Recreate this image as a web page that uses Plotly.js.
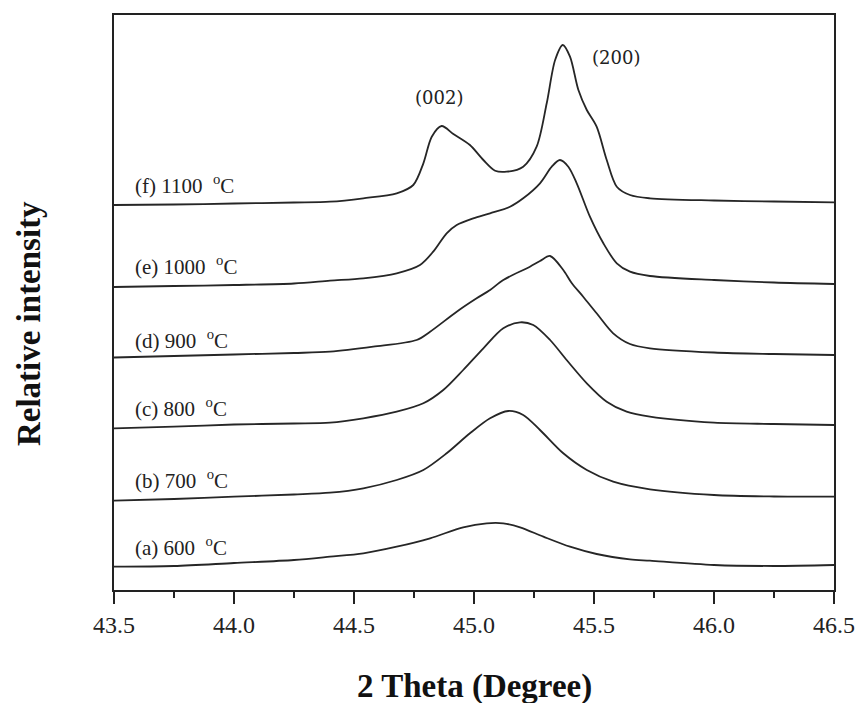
<!DOCTYPE html>
<html>
<head>
<meta charset="utf-8">
<script src="https://cdn.plot.ly/plotly-3.0.1.min.js"></script>
<style>html,body{margin:0;padding:0;background:#fff;}#chart{width:862px;height:703px;}</style>
</head>
<body>
<div id="chart"></div>
<script>
// 2 Theta (degree) and relative intensity (stacked, arbitrary units)
var xA = [43.5,43.75,44.0,44.25,44.40,44.539,44.678,44.817,44.955,45.053,45.122,45.192,45.289,45.400,45.511,45.650,45.733,46.0,46.25,46.5];
var yA = [23.3,24,27,30,33.3,36.7,43.3,51.7,62.7,66.7,66.7,62.7,53.3,43.3,36,30.7,29.3,25,24,25];

var xB = [43.5,43.75,44.0,44.25,44.40,44.539,44.678,44.789,44.886,44.983,45.067,45.143,45.205,45.275,45.372,45.470,45.580,45.733,46.0,46.25,46.5];
var yB = [89.3,91,93.3,95.5,97.3,101.7,110,120,136.7,156.7,171.7,179,175,160,136.7,120,108.3,100.7,95,93.5,93.3];

var xC = [43.5,43.75,44.0,44.25,44.40,44.539,44.678,44.789,44.872,44.955,45.039,45.122,45.192,45.247,45.317,45.386,45.470,45.553,45.636,45.733,46.0,46.25,46.5];
var yC = [161.7,163.3,165.5,166.5,167.3,171.7,178.3,186.7,200,220,241.7,261.7,267.7,265,250,230,206.7,188.3,178.3,173.3,167.3,166,165];

var xD = [43.5,43.75,44.0,44.25,44.40,44.580,44.761,44.817,44.928,45.011,45.067,45.122,45.233,45.275,45.317,45.372,45.407,45.455,45.511,45.580,45.650,45.733,46.0,46.25,46.5];
var yD = [232.5,234,235.5,237,238.3,243.3,250,258.3,278.3,291.7,300,310,323.3,329,334,320,307,293.3,276.7,256.7,246,241.7,237.5,236,235];

var xE = [43.5,43.75,44.0,44.25,44.40,44.539,44.678,44.775,44.830,44.886,44.928,44.997,45.067,45.150,45.205,45.275,45.324,45.358,45.393,45.428,45.483,45.539,45.595,45.650,45.733,46.0,46.25,46.5];
var yE = [303,304,305,306.5,309.3,311.7,316.7,325,338.3,356.7,365,371.7,376.7,383.3,391.7,406.7,423.3,430,423.3,406.7,373.3,346.7,326.7,318.3,314,310,307.5,306];

var xF = [43.5,43.75,44.0,44.25,44.40,44.539,44.678,44.747,44.789,44.824,44.865,44.914,44.983,45.039,45.088,45.136,45.205,45.261,45.303,45.338,45.370,45.400,45.435,45.470,45.511,45.553,45.595,45.650,45.733,46.0,46.25,46.5];
var yF = [385,385.5,386.5,387.5,388.3,391.7,396.7,405,426.7,453.3,464,456,445,430,419.3,418.3,423.3,443.3,486.7,530,545,533.3,500,480,463.3,430,403.3,395,391.7,389.5,388.5,387.7];

var seriesLabels = ["(a) 600", "(b) 700", "(c) 800", "(d) 900", "(e) 1000", "(f) 1100"];
var labelY = [44, 111, 182.5, 251, 325, 406];
var peakLabels = ["(002)", "(200)"];
var peakX = [44.855, 45.592];
var peakY = [493, 533];
var xTicks = [43.5, 44.0, 44.5, 45.0, 45.5, 46.0, 46.5];
var xTickText = ["43.5", "44.0", "44.5", "45.0", "45.5", "46.0", "46.5"];

var xs = [xA, xB, xC, xD, xE, xF];
var ys = [yA, yB, yC, yD, yE, yF];
var lineColor = "#262626";
var traces = xs.map(function (x, i) {
  return {
    x: x, y: ys[i], type: "scatter", mode: "lines",
    line: {color: lineColor, width: 1.8, shape: "spline", smoothing: 0.85},
    hoverinfo: "skip", showlegend: false
  };
});

var annotations = seriesLabels.map(function (t, i) {
  return {
    x: 43.579, y: labelY[i], xref: "x", yref: "y",
    text: t + "  <sup>o</sup>C", showarrow: false, xanchor: "left", yanchor: "middle",
    font: {family: "Liberation Serif, serif", size: 21, color: "#222"}
  };
});
peakLabels.forEach(function (t, i) {
  annotations.push({
    x: peakX[i], y: peakY[i], xref: "x", yref: "y", text: t, showarrow: false,
    xanchor: "center", yanchor: "middle",
    font: {family: "DejaVu Serif, serif", size: 18, color: "#222"}
  });
});
annotations.push({
  x: 0.501, y: -0.168, xref: "paper", yref: "paper", text: "<b>2 Theta (Degree)</b>",
  showarrow: false, xanchor: "center", yanchor: "middle",
  font: {family: "Liberation Serif, serif", size: 33, color: "#111"}
});
annotations.push({
  x: -0.119, y: 0.463, xref: "paper", yref: "paper", text: "<b>Relative intensity</b>",
  showarrow: false, xanchor: "center", yanchor: "middle", textangle: -90,
  font: {family: "Liberation Serif, serif", size: 33, color: "#111"}
});

var layout = {
  width: 862, height: 703,
  margin: {l: 114, r: 28, t: 15, b: 113},
  paper_bgcolor: "#fff", plot_bgcolor: "#fff",
  showlegend: false,
  xaxis: {
    range: [43.5, 46.5], tickvals: xTicks, ticktext: xTickText,
    ticks: "outside", ticklen: 12, tickwidth: 1.5, tickcolor: "#222",
    minor: {dtick: 0.25, tick0: 43.5, ticks: "outside", ticklen: 6, tickwidth: 1.5, tickcolor: "#222", showgrid: false},
    showline: true, linecolor: "#222", linewidth: 1.8, mirror: true,
    showgrid: false, zeroline: false,
    tickfont: {family: "Liberation Serif", size: 24, color: "#222"}
  },
  yaxis: {
    range: [0, 575], showticklabels: false, ticks: "",
    showline: true, linecolor: "#222", linewidth: 1.8, mirror: true,
    showgrid: false, zeroline: false
  },
  annotations: annotations
};

Plotly.newPlot("chart", traces, layout, {staticPlot: true, displayModeBar: false});
</script>
</body>
</html>
